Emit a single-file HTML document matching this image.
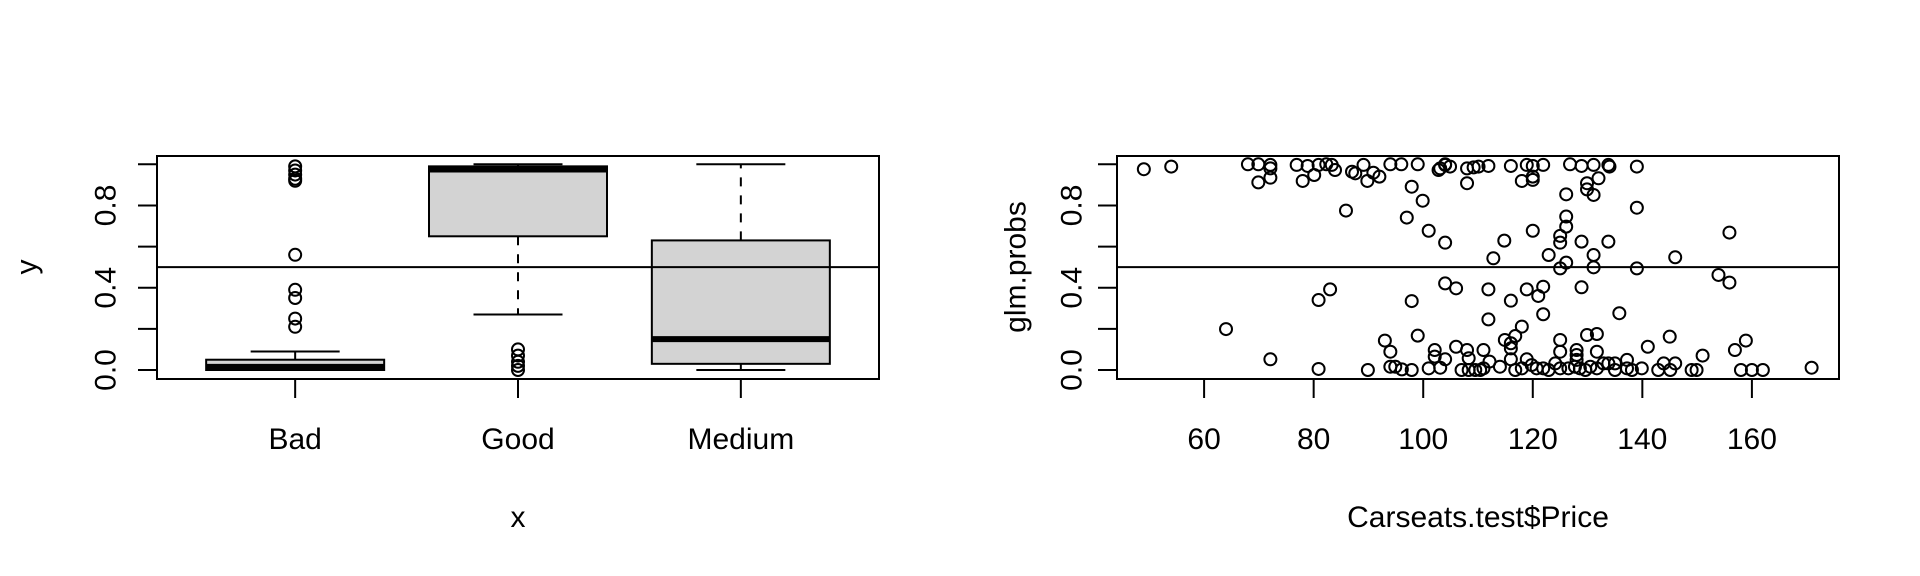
<!DOCTYPE html>
<html><head><meta charset="utf-8"><style>
html,body{margin:0;padding:0;background:#fff;}
svg{display:block;font-family:"Liberation Sans",Arial,sans-serif;}
</style></head><body>
<svg id="chart" width="1920" height="576" viewBox="0 0 1920 576" xmlns="http://www.w3.org/2000/svg"></svg>
<script>
// ---- boxplot data ----
const groups = ["Bad","Good","Medium"];
const boxLowWhisker = [0.0, 0.27, 0.0];
const boxQ1 = [0.0, 0.65, 0.03];
const boxMedian = [0.015, 0.975, 0.15];
const boxQ3 = [0.05, 0.99, 0.63];
const boxHighWhisker = [0.09, 1.0, 1.0];
const outlierGroup = [0,0,0,0,0,0,0,0,0,0,1,1,1,1,1];
const outlierValue = [0.56,0.39,0.35,0.25,0.21,0.99,0.97,0.95,0.93,0.92,0.10,0.07,0.04,0.02,0.0];
const yTicks = [0,0.2,0.4,0.6,0.8,1.0];
const yTickLabels = ["0.0","","0.4","","0.8",""];
const cutoff = [0.5];
// ---- scatter data ----
const priceX = [49.0,54.0,68.0,69.9,72.1,72.1,72.1,69.9,76.9,78.9,80.9,82.3,83.3,83.9,80.1,78.0,87.0,87.6,89.1,89.8,90.9,92.0,94.0,96.0,99.0,102.8,103.1,104.0,104.9,104.0,108.0,109.2,110.1,97.9,99.9,108.0,85.9,97.0,101.0,104.0,
83.0,80.9,97.9,104.0,106.0,64.0,99.0,93.0,94.0,102.1,102.1,104.0,106.0,108.0,108.3,72.1,80.9,89.9,94.0,94.9,96.1,97.9,101.0,103.1,107.0,108.3,109.5,110.4,
111.9,116.0,118.9,120.0,121.9,126.8,128.9,131.1,133.8,134.0,139.0,118.0,120.0,120.0,129.9,132.0,129.9,131.1,126.1,139.0,126.1,126.1,120.0,125.0,125.0,114.8,128.9,133.8,112.8,122.9,126.1,131.1,125.0,131.1,139.0,146.0,155.9,153.9,155.9,
111.9,116.0,118.9,121.0,121.9,128.9,111.9,121.9,135.8,118.0,114.9,116.8,116.0,116.0,125.0,125.0,129.9,131.7,128.0,128.0,131.7,145.0,141.0,158.9,156.9,151.0,111.0,112.1,114.0,111.0,116.0,116.8,118.0,118.9,119.8,120.7,121.9,122.9,124.1,125.0,126.5,127.7,128.0,128.6,129.6,130.5,131.7,132.9,133.8,135.0,135.0,137.2,137.2,138.1,139.9,142.9,143.9,145.1,146.0,149.0,149.9,158.0,160.0,162.0,170.9];
const probY = [0.976,0.989,1.0,1.0,0.997,0.98,0.935,0.912,0.997,0.992,0.997,1.0,0.997,0.972,0.948,0.919,0.964,0.956,0.997,0.919,0.959,0.94,1.0,1.0,1.0,0.972,0.98,0.997,0.989,1.0,0.98,0.985,0.989,0.891,0.823,0.908,0.775,0.741,0.677,0.619,
0.392,0.340,0.335,0.421,0.397,0.199,0.167,0.143,0.089,0.097,0.065,0.052,0.113,0.097,0.057,0.052,0.005,0.0,0.016,0.016,0.003,0.0,0.008,0.011,0.0,0.0,0.0,0.0,
0.992,0.992,0.997,0.992,0.997,1.0,0.992,0.997,0.997,0.989,0.989,0.919,0.94,0.924,0.908,0.932,0.878,0.851,0.854,0.789,0.746,0.697,0.677,0.652,0.619,0.629,0.624,0.624,0.543,0.559,0.522,0.559,0.494,0.499,0.494,0.548,0.668,0.462,0.425,
0.392,0.337,0.392,0.360,0.405,0.402,0.246,0.271,0.276,0.211,0.146,0.165,0.130,0.105,0.146,0.089,0.170,0.175,0.097,0.073,0.089,0.162,0.113,0.143,0.097,0.070,0.097,0.041,0.016,0.008,0.052,0.0,0.008,0.052,0.024,0.008,0.008,0.0,0.032,0.008,0.008,0.016,0.049,0.008,0.0,0.016,0.008,0.032,0.032,0.032,0.0,0.049,0.008,0.0,0.008,0.0,0.032,0.0,0.032,0.0,0.0,0.0,0.0,0.0,0.011];
const xTicks = [60,80,100,120,140,160];

const NS="http://www.w3.org/2000/svg";
const svg=document.getElementById('chart');
function mk(tag,attrs,parent){const e=document.createElementNS(NS,tag);for(const k in attrs)e.setAttribute(k,attrs[k]);(parent||svg).appendChild(e);return e;}
const PT=156, PB=379;
const yS=v=>370-v*205.7;
const L1=157, R1=879, L2=1117, R2=1839;
const xB=i=>L1+(i+1-0.38)*(R1-L1)/3.24;
const xP=v=>L2+(v-44.1)*(R2-L2)/(175.9-44.1);
const SW=2;
const TICKY=449, TITLEY=527;

function yAxis(L,labelX,titleX,title,prefix){
  const g=mk('g',{});
  
  
  yTicks.forEach((t,i)=>{
    const tk=mk('line',{x1:L-19,x2:L,y1:yS(t),y2:yS(t),stroke:'#000','stroke-width':SW},g);
    
    
    if(yTickLabels[i]){
      const tx=mk('text',{x:labelX,y:yS(t),'font-size':30,'text-anchor':'middle','dominant-baseline':'central',transform:`rotate(-90 ${labelX} ${yS(t)})`},g);
      tx.textContent=yTickLabels[i];
      
      
    }
  });
  const tt=mk('text',{x:titleX,y:267,'font-size':30,'text-anchor':'middle','dominant-baseline':'central',transform:`rotate(-90 ${titleX} 267)`});
  tt.textContent=title;
  
  
}

// ---- left: boxplot ----
const g1=mk('g',{});


groups.forEach((gname,i)=>{
  const cx=xB(i), hw=89, cw=44.5;
  const bg=mk('g',{},g1);
  
  
  mk('line',{x1:cx,x2:cx,y1:yS(boxQ3[i]),y2:yS(boxHighWhisker[i]),stroke:'#000','stroke-width':SW,'stroke-dasharray':'9,9'},bg);
  mk('line',{x1:cx,x2:cx,y1:yS(boxQ1[i]),y2:yS(boxLowWhisker[i]),stroke:'#000','stroke-width':SW,'stroke-dasharray':'9,9'},bg);
  mk('line',{x1:cx-cw,x2:cx+cw,y1:yS(boxHighWhisker[i]),y2:yS(boxHighWhisker[i]),stroke:'#000','stroke-width':SW},bg);
  mk('line',{x1:cx-cw,x2:cx+cw,y1:yS(boxLowWhisker[i]),y2:yS(boxLowWhisker[i]),stroke:'#000','stroke-width':SW},bg);
  mk('rect',{x:cx-hw,y:yS(boxQ3[i]),width:2*hw,height:yS(boxQ1[i])-yS(boxQ3[i]),fill:'#d3d3d3',stroke:'#000','stroke-width':SW},bg);
  mk('line',{x1:cx-hw,x2:cx+hw,y1:yS(boxMedian[i]),y2:yS(boxMedian[i]),stroke:'#000','stroke-width':6},bg);
  const tk=mk('line',{x1:cx,x2:cx,y1:PB,y2:PB+19,stroke:'#000','stroke-width':SW},g1);
  
  
  const tl=mk('text',{x:cx,y:TICKY,'font-size':30,'text-anchor':'middle'},g1);
  tl.textContent=gname;
  
  
});
outlierValue.forEach((v,k)=>{
  const c=mk('circle',{cx:xB(outlierGroup[k]),cy:yS(v),r:6,fill:'none',stroke:'#000','stroke-width':SW},g1);
  
  
});
const h1=mk('line',{x1:L1,x2:R1,y1:yS(cutoff[0]),y2:yS(cutoff[0]),stroke:'#000','stroke-width':SW});


const f1=mk('rect',{x:L1,y:PT,width:R1-L1,height:PB-PT,fill:'none',stroke:'#000','stroke-width':SW});


yAxis(L1,106,27,'y','boxplot');
const xt1=mk('text',{x:(L1+R1)/2,y:TITLEY,'font-size':30,'text-anchor':'middle'});
xt1.textContent='x';



// ---- right: scatter ----
const g2=mk('g',{});


priceX.forEach((v,k)=>{
  const c=mk('circle',{cx:xP(v),cy:yS(probY[k]),r:6,fill:'none',stroke:'#000','stroke-width':SW},g2);
  
  
});
const h2=mk('line',{x1:L2,x2:R2,y1:yS(cutoff[0]),y2:yS(cutoff[0]),stroke:'#000','stroke-width':SW});


const f2=mk('rect',{x:L2,y:PT,width:R2-L2,height:PB-PT,fill:'none',stroke:'#000','stroke-width':SW});


const xa=mk('g',{});


xTicks.forEach(t=>{
  const tk=mk('line',{x1:xP(t),x2:xP(t),y1:PB,y2:PB+19,stroke:'#000','stroke-width':SW},xa);
  
  
  const tl=mk('text',{x:xP(t),y:TICKY,'font-size':30,'text-anchor':'middle'},xa);
  tl.textContent=String(t);
  
  
});
yAxis(L2,1072,1016,'glm.probs','scatter');
const xt2=mk('text',{x:(L2+R2)/2,y:TITLEY,'font-size':30,'text-anchor':'middle'});
xt2.textContent='Carseats.test$Price';


</script>
</body></html>
